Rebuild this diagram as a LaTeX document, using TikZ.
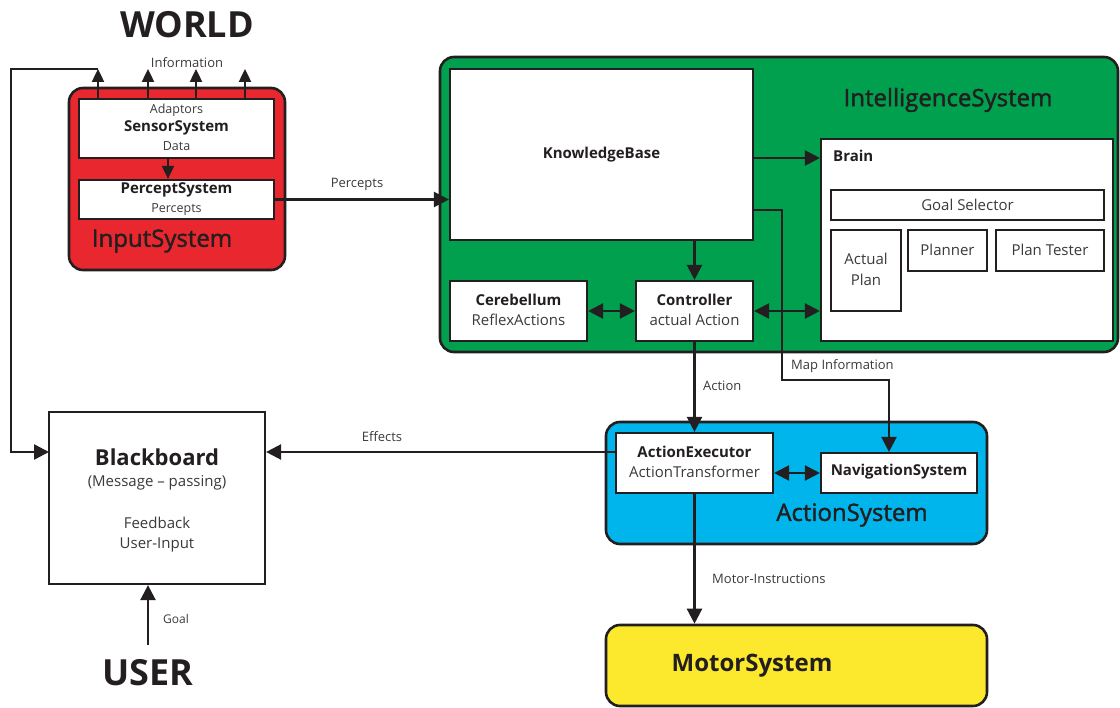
\documentclass[tikz,border=0pt]{standalone}
\usepackage{fontspec}
\setmainfont{Open Sans}
\newfontfamily\medfont{Open Sans}[FakeBold=1.6]
\usetikzlibrary{arrows.meta}
\definecolor{ink}{HTML}{231F20}
\definecolor{txt}{HTML}{3A3A3A}
\definecolor{inred}{HTML}{E8282E}
\definecolor{ingreen}{HTML}{00A04E}
\definecolor{inblue}{HTML}{00B4EC}
\definecolor{inyellow}{HTML}{FCE82C}
\newcommand{\fs}[1]{\fontsize{#1}{#1}\selectfont}
\begin{document}
\begin{tikzpicture}[x=1pt,y=-1pt,
  sysbox/.style={draw=ink, line width=2.6pt, rounded corners=14pt, inner sep=0pt},
  blk/.style={draw=ink, fill=white, line width=2.2pt, inner sep=0pt},
  tip/.tip={Triangle[length=15pt,width=15pt]},
  smalltip/.tip={Triangle[length=13pt,width=12pt]},
  conn/.style={draw=ink, line width=2.4pt, -tip},
  twoway/.style={draw=ink, line width=2.4pt, tip-tip},
  lbl/.style={text=txt, inner sep=0pt, font=\fs{13}},
  inner/.style={text=txt, inner sep=0pt, font=\fs{15}},
  title/.style={text=ink, inner sep=0pt, font=\fs{15}\bfseries},
  big/.style={text=ink, inner sep=0pt, font=\medfont\fs{24}},
  huge/.style={text=ink, inner sep=0pt, font=\fs{36}\bfseries}]
\useasboundingbox (0,0) rectangle (1120,708);

% ---------- containers ----------
\node[sysbox, fill=inred, minimum width=216pt, minimum height=182pt] (input) at (177,179) {};
\node[sysbox, fill=ingreen, minimum width=678pt, minimum height=295pt] (intel) at (779,204.5) {};
\node[sysbox, fill=inblue, minimum width=381pt, minimum height=122pt] (action) at (796.5,483) {};
\node[sysbox, fill=inyellow, minimum width=381pt, minimum height=81pt] (motor) at (796.5,665.5) {};

% ---------- blocks ----------
\node[blk, minimum width=195pt, minimum height=59pt] (sensor) at (176.5,128.5) {};
\node[blk, minimum width=195pt, minimum height=39pt] (percept) at (176.5,199.5) {};
\node[blk, minimum width=303pt, minimum height=171pt] (kb) at (601.5,154.5) {};
\node[blk, minimum width=137pt, minimum height=60pt] (cereb) at (518.5,311) {};
\node[blk, minimum width=117pt, minimum height=60pt] (ctrl) at (694.5,311) {};
\node[blk, minimum width=292pt, minimum height=202pt] (brain) at (967,240) {};
\node[blk, line width=1.8pt, minimum width=273pt, minimum height=30pt] (goalsel) at (967.5,205) {};
\node[blk, line width=1.8pt, minimum width=70pt, minimum height=81pt] (actplan) at (866,270.5) {};
\node[blk, line width=1.8pt, minimum width=79pt, minimum height=41pt] (planner) at (947.5,250.5) {};
\node[blk, line width=1.8pt, minimum width=108pt, minimum height=41pt] (tester) at (1050,250.5) {};
\node[blk, minimum width=157pt, minimum height=60pt] (exec) at (694.5,463) {};
\node[blk, minimum width=156pt, minimum height=40pt] (nav) at (899,473) {};
\node[blk, minimum width=216pt, minimum height=172pt] (bb) at (157,498) {};

% ---------- texts ----------
\node[huge] (world) at (187,25) {WORLD};
\node[lbl] (info) at (187,63) {Information};
\node[lbl, font=\fs{12.5}] (adapt) at (176.5,110) {Adaptors};
\node[title] (sensorT) at (176.5,128) {SensorSystem};
\node[lbl, font=\fs{12.5}] (data) at (176.5,146) {Data};
\node[title] (perceptT) at (176.5,190) {PerceptSystem};
\node[lbl, font=\fs{12.5}] (percs) at (176.5,210) {Percepts};
\node[big] (inputT) at (162,241) {InputSystem};
\node[lbl] (percL) at (357,184) {Percepts};
\node[title] (kbT) at (601.5,155) {KnowledgeBase};
\node[big] (intelT) at (948,100) {IntelligenceSystem};
\node[title, anchor=west] (brainT) at (833,156) {Brain};
\node[inner] (goalT) at (967.5,205) {Goal Selector};
\node[inner] (actT1) at (866,259) {Actual};
\node[inner] (actT2) at (866,280) {Plan};
\node[inner] (planT) at (947.5,250) {Planner};
\node[inner] (testT) at (1050,250) {Plan Tester};
\node[title] (cerebT) at (518.5,300) {Cerebellum};
\node[inner] (reflexT) at (518.5,320) {ReflexActions};
\node[title] (ctrlT) at (694.5,300) {Controller};
\node[inner] (actionT) at (694.5,320) {actual Action};
\node[lbl, anchor=west] (mapL) at (791,366) {Map Information};
\node[lbl, anchor=west] (actL) at (703,386) {Action};
\node[lbl] (effL) at (382,437) {Effects};
\node[title] (execT1) at (694.5,452) {ActionExecutor};
\node[inner] (execT2) at (694.5,472) {ActionTransformer};
\node[title] (navT) at (899,472) {NavigationSystem};
\node[big] (actionST) at (852,515) {ActionSystem};
\node[text=ink, inner sep=0pt, font=\fs{24}\bfseries] (motorT) at (752,666) {MotorSystem};
\node[text=ink, inner sep=0pt, font=\fs{22}\bfseries] (bbT) at (157,457) {Blackboard};
\node[inner] (bbT2) at (157,483) {(Message – passing)};
\node[inner] (bbT3) at (157,523) {Feedback};
\node[inner] (bbT4) at (157,545) {User-Input};
\node[lbl, font=\fs{12}, anchor=west] (goalL) at (163,619) {Goal};
\node[lbl, anchor=west] (motL) at (712,579) {Motor-Instructions};
\node[huge] (user) at (148,673) {USER};

% ---------- connector points ----------
\coordinate (i1) at (98,69);
\coordinate (i2) at (148,69);
\coordinate (i3) at (196,69);
\coordinate (i4) at (245,69);
\coordinate (fbx) at (11,0);
\coordinate (bbin) at (49,452);
\coordinate (sp) at (168,0);
\coordinate (ykb) at (0,158);
\coordinate (ymap) at (0,210);
\coordinate (mapa) at (782,380);
\coordinate (mapb) at (889,380);
\coordinate (yeff) at (0,452);
\coordinate (goalstart) at (148,645);

% ---------- connectors ----------
\foreach \p in {i1,i2,i3,i4}
  \draw[conn, -smalltip] (sensor.north -| \p) -- (\p);
\draw[conn] (i1) -- (i1 -| fbx) -- (fbx |- bbin) -- (bbin);
\draw[conn, line width=2pt, -smalltip] (sensor.south -| sp) -- (percept.north -| sp);
\draw[conn] (percept.east) -- (kb.west |- percept.east);
\draw[conn] (kb.east |- ykb) -- (brain.west |- ykb);
\draw[conn] (kb.south -| ctrl.north) -- (ctrl.north);
\draw[twoway] (cereb.east) -- (ctrl.west);
\draw[twoway] (ctrl.east) -- (brain.west |- ctrl.east);
\draw[conn] (kb.east |- ymap) -- (mapa |- ymap) -- (mapa) -- (mapb) -- (nav.north -| mapb);
\draw[conn] (ctrl.south) -- (exec.north);
\draw[conn] (exec.west |- yeff) -- (bb.east |- yeff);
\draw[twoway] (exec.east |- nav.west) -- (nav.west);
\draw[conn] (exec.south) -- (motor.north -| exec.south);
\draw[conn] (goalstart) -- (bb.south -| goalstart);
\end{tikzpicture}
\end{document}
